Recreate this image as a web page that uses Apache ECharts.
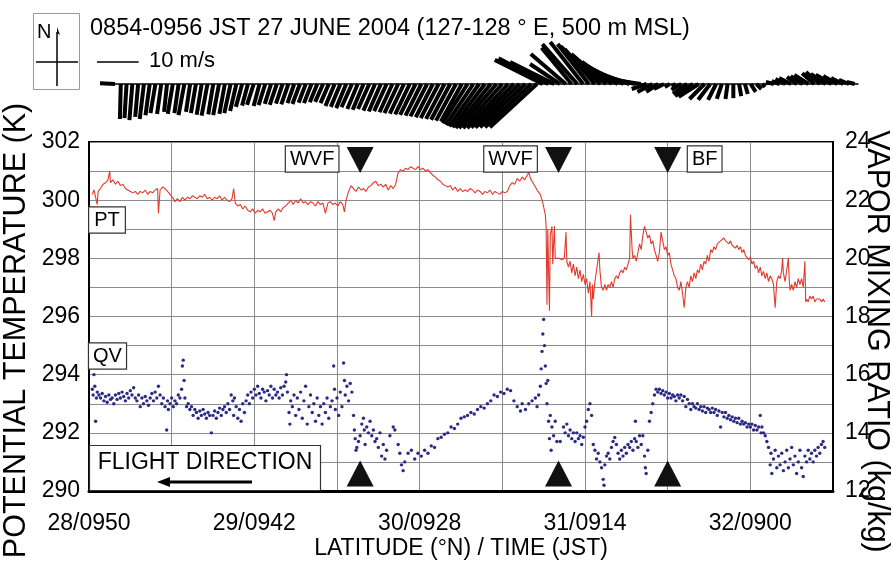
<!DOCTYPE html>
<html><head><meta charset="utf-8">
<script src="https://cdn.jsdelivr.net/npm/echarts@6/dist/echarts.min.js"></script>
<style>html,body{margin:0;padding:0;background:#fff}#c{width:893px;height:562px}</style>
</head><body><div id="c"></div>
<script>
const FONT = '"Liberation Sans", Arial, Helvetica, sans-serif';
const titleText = '0854-0956 JST 27 JUNE 2004 (127-128 ° E, 500 m MSL)';
const xTickLat = [28, 29, 30, 31, 32];
const xTickLabels = ['28/0950', '29/0942', '30/0928', '31/0914', '32/0900'];
const frontLat = [29.64, 30.84, 31.5];
const frontNames = ['WVF', 'WVF', 'BF'];
const frontSide = [-1, -1, 1];

// Potential temperature (K) vs latitude
const ptData = [
[28.02,300.2],[28.03,300.35],[28.04,300.3],[28.05,299.85],[28.055,300.3],[28.07,300.4],[28.085,300.55],[28.10,300.6],[28.115,300.7],[28.125,301.0],
[28.13,300.6],[28.145,300.7],[28.16,300.55],[28.175,300.65],[28.19,300.5],[28.205,300.55],[28.22,300.4],[28.235,300.35],[28.25,300.3],[28.265,300.25],
[28.28,300.3],[28.295,300.2],[28.31,300.3],[28.325,300.25],[28.34,300.35],[28.355,300.2],[28.37,300.3],[28.385,300.25],[28.40,300.35],[28.415,300.4],
[28.42,299.55],[28.43,300.35],[28.445,300.45],[28.46,300.4],[28.475,300.3],[28.49,300.2],[28.505,300.1],[28.52,299.95],[28.535,300.05],[28.55,299.95],
[28.565,300.1],[28.58,300.0],[28.595,300.1],[28.61,300.05],[28.625,300.15],[28.64,300.1],[28.655,300.05],[28.67,300.15],[28.685,300.1],[28.70,300.2],
[28.715,300.05],[28.73,300.1],[28.745,300.0],[28.76,300.1],[28.775,300.05],[28.79,300.15],[28.805,300.0],[28.82,300.1],[28.835,300.0],[28.85,299.95],
[28.865,300.05],[28.875,300.4],[28.885,299.9],[28.90,299.8],[28.915,299.85],[28.93,299.7],[28.945,299.8],[28.96,299.65],[28.975,299.6],[28.99,299.7],
[29.005,299.55],[29.02,299.65],[29.035,299.6],[29.05,299.7],[29.065,299.55],[29.08,299.6],[29.095,299.65],[29.11,299.55],[29.12,299.3],[29.13,299.6],
[29.145,299.7],[29.16,299.6],[29.175,299.75],[29.19,299.8],[29.205,299.9],[29.22,300.0],[29.235,299.85],[29.25,300.0],[29.265,299.9],[29.28,300.05],
[29.295,299.9],[29.31,299.95],[29.325,299.85],[29.34,299.95],[29.355,299.9],[29.37,299.8],[29.385,299.95],[29.40,299.85],[29.415,299.9],[29.43,299.55],
[29.445,299.9],[29.46,299.95],[29.475,299.85],[29.49,299.9],[29.505,299.8],[29.52,299.95],[29.535,299.85],[29.545,299.6],[29.555,300.0],[29.57,300.3],
[29.585,300.5],[29.60,300.4],[29.615,300.3],[29.63,300.45],[29.645,300.35],[29.66,300.4],[29.675,300.3],[29.69,300.45],[29.705,300.5],[29.72,300.6],
[29.735,300.65],[29.75,300.5],[29.765,300.55],[29.78,300.45],[29.795,300.55],[29.81,300.35],[29.825,300.5],[29.84,300.4],[29.855,300.55],[29.87,300.95],
[29.885,301.05],[29.90,301.0],[29.915,301.1],[29.93,301.05],[29.945,301.15],[29.96,301.1],[29.975,301.05],[29.99,301.15],[30.005,301.05],[30.02,301.1],
[30.035,301.0],[30.05,301.05],[30.065,300.95],[30.08,300.85],[30.095,300.8],[30.11,300.7],[30.125,300.65],[30.14,300.55],[30.155,300.5],[30.17,300.45],
[30.185,300.5],[30.20,300.35],[30.215,300.45],[30.23,300.3],[30.245,300.4],[30.26,300.3],[30.275,300.35],[30.29,300.3],[30.305,300.4],[30.32,300.35],
[30.335,300.25],[30.35,300.35],[30.365,300.3],[30.38,300.2],[30.395,300.3],[30.41,300.25],[30.425,300.35],[30.44,300.2],[30.455,300.3],[30.47,300.25],
[30.485,300.2],[30.50,300.3],[30.515,300.25],[30.53,300.3],[30.545,300.5],[30.56,300.6],[30.575,300.55],[30.59,300.75],[30.605,300.65],[30.62,300.8],
[30.635,300.7],[30.65,300.85],[30.66,300.95],[30.67,300.75],[30.685,300.6],[30.70,300.45],[30.715,300.3],[30.73,300.2],[30.745,299.9],[30.76,299.5],
[30.765,299.1],[30.77,296.4],[30.775,299.0],[30.78,297.5],[30.785,296.2],[30.79,298.8],[30.80,299.1],[30.805,297.8],[30.81,298.5],[30.815,299.1],
[30.82,298.0],[30.83,297.95],[30.845,298.0],[30.86,297.95],[30.875,298.0],[30.885,298.9],[30.89,297.9],[30.90,297.7],[30.91,297.9],[30.92,297.5],
[30.93,297.8],[30.94,297.4],[30.95,297.7],[30.96,297.3],[30.97,297.6],[30.98,297.2],[30.99,297.45],[31.00,297.1],[31.01,297.3],[31.02,296.8],
[31.03,297.2],[31.04,296.0],[31.045,297.1],[31.05,296.6],[31.06,297.2],[31.07,297.6],[31.08,298.0],[31.085,298.2],[31.09,297.6],[31.10,297.0],
[31.11,296.9],[31.12,297.1],[31.13,296.9],[31.14,297.1],[31.15,297.0],[31.16,297.2],[31.17,297.0],[31.18,297.3],[31.19,297.4],[31.20,297.3],
[31.21,297.5],[31.22,297.6],[31.23,297.5],[31.24,297.7],[31.25,297.6],[31.26,297.8],[31.27,298.0],[31.275,299.5],[31.285,298.3],[31.29,298.0],
[31.30,298.1],[31.31,297.9],[31.32,298.2],[31.33,298.5],[31.34,298.3],[31.35,298.8],[31.36,299.1],[31.37,298.9],[31.38,298.7],[31.39,298.8],
[31.40,298.5],[31.41,298.6],[31.42,298.3],[31.43,298.1],[31.44,297.9],[31.45,298.2],[31.46,298.9],[31.47,298.6],[31.48,298.3],[31.49,298.4],
[31.50,298.1],[31.51,298.2],[31.52,297.8],[31.53,297.6],[31.54,297.4],[31.55,297.3],[31.56,297.0],[31.57,296.9],[31.58,297.2],[31.59,296.8],
[31.60,296.3],[31.61,297.0],[31.62,297.2],[31.63,297.0],[31.64,297.4],[31.65,297.2],[31.66,297.5],[31.67,297.3],[31.68,297.6],[31.69,297.5],
[31.70,297.8],[31.71,297.6],[31.72,297.9],[31.73,297.8],[31.74,298.1],[31.75,297.9],[31.76,298.3],[31.77,298.2],[31.78,298.4],[31.79,298.3],
[31.80,298.5],[31.81,298.45],[31.82,298.6],[31.83,298.55],[31.84,298.7],[31.85,298.6],[31.86,298.65],[31.87,298.5],[31.88,298.6],[31.89,298.45],
[31.90,298.5],[31.91,298.35],[31.92,298.45],[31.93,298.3],[31.94,298.4],[31.95,298.2],[31.96,298.3],[31.97,298.1],[31.98,298.15],[31.99,297.95],
[32.00,298.05],[32.01,297.8],[32.02,297.9],[32.03,297.65],[32.04,297.75],[32.05,297.5],[32.06,297.7],[32.07,297.4],[32.08,297.55],[32.09,297.3],
[32.10,297.5],[32.11,297.2],[32.12,297.4],[32.13,297.3],[32.14,297.1],[32.15,296.3],[32.16,297.2],[32.17,297.4],[32.18,297.3],[32.19,297.6],
[32.195,298.0],[32.20,297.5],[32.21,297.2],[32.22,297.6],[32.23,298.0],[32.235,297.3],[32.24,296.9],[32.25,297.1],[32.26,296.9],[32.27,297.2],
[32.28,297.0],[32.29,297.3],[32.30,297.1],[32.31,297.3],[32.32,297.0],[32.33,297.9],[32.335,296.5],[32.34,296.6],[32.35,296.5],[32.36,296.7],
[32.37,296.6],[32.38,296.7],[32.39,296.5],[32.40,296.6],[32.41,296.55],[32.42,296.6],[32.43,296.5],[32.44,296.6],[32.45,296.5]
];

// Vapor mixing ratio vs latitude
const qvData = [
[28.02,15.5],[28.025,15.3],[28.03,16.0],[28.035,15.6],[28.04,14.4],[28.045,15.2],[28.05,15.4],[28.06,15.3],[28.07,15.2],[28.08,15.35],
[28.09,15.1],[28.10,15.25],[28.11,15.05],[28.12,15.3],[28.13,15.15],[28.14,15.2],[28.15,15.0],[28.16,15.3],[28.17,15.15],[28.18,15.35],
[28.19,15.2],[28.20,15.4],[28.21,15.25],[28.22,15.1],[28.23,15.35],[28.24,15.2],[28.25,15.45],[28.26,15.3],[28.27,15.55],[28.28,15.2],
[28.29,15.1],[28.30,15.3],[28.31,14.9],[28.32,15.2],[28.33,15.0],[28.34,15.25],[28.35,15.1],[28.36,14.95],[28.37,15.2],[28.38,15.35],
[28.39,15.1],[28.40,15.4],[28.41,15.2],[28.42,15.6],[28.43,15.3],[28.44,15.0],[28.45,15.2],[28.46,14.9],[28.47,14.1],[28.475,15.1],
[28.48,14.8],[28.49,15.0],[28.50,15.2],[28.51,14.9],[28.52,15.1],[28.53,15.0],[28.54,15.3],[28.55,15.2],[28.56,15.5],[28.565,16.3],
[28.57,16.5],[28.575,15.8],[28.58,15.2],[28.59,14.9],[28.60,15.0],[28.61,14.8],[28.62,14.9],[28.63,14.6],[28.64,14.8],[28.65,14.7],
[28.66,14.5],[28.67,14.75],[28.68,14.6],[28.69,14.8],[28.70,14.65],[28.71,14.5],[28.72,14.7],[28.73,14.6],[28.74,14.0],[28.75,14.6],
[28.76,14.75],[28.77,14.5],[28.78,14.7],[28.79,14.85],[28.80,14.6],[28.81,14.8],[28.82,14.9],[28.83,14.7],[28.84,15.0],[28.85,14.8],
[28.86,15.3],[28.87,15.1],[28.875,14.6],[28.88,15.2],[28.89,14.9],[28.90,14.5],[28.91,14.8],[28.92,14.4],[28.93,15.0],[28.94,14.7],
[28.95,15.1],[28.96,15.3],[28.97,15.0],[28.98,15.4],[28.99,15.2],[29.00,15.5],[29.01,15.3],[29.02,15.6],[29.03,15.35],[29.04,15.2],
[29.05,15.5],[29.06,15.4],[29.07,15.1],[29.08,15.45],[29.09,15.3],[29.10,15.6],[29.11,15.2],[29.12,15.5],[29.13,15.3],[29.14,15.4],
[29.15,15.2],[29.16,15.55],[29.17,15.3],[29.18,15.6],[29.19,15.75],[29.195,16.0],[29.20,15.4],[29.21,14.7],[29.215,14.3],[29.22,15.1],
[29.23,14.9],[29.24,15.3],[29.25,14.6],[29.26,15.2],[29.27,14.8],[29.28,15.4],[29.29,14.5],[29.30,15.1],[29.31,15.6],[29.32,14.3],
[29.33,14.9],[29.34,15.3],[29.35,14.7],[29.36,15.0],[29.37,14.4],[29.38,15.2],[29.39,14.6],[29.40,14.9],[29.41,14.3],[29.42,15.0],
[29.43,14.7],[29.44,15.2],[29.45,14.5],[29.46,14.9],[29.47,15.1],[29.48,16.3],[29.485,15.5],[29.49,14.8],[29.50,15.2],[29.51,14.6],
[29.52,15.4],[29.53,14.9],[29.54,16.4],[29.545,15.8],[29.55,15.3],[29.56,15.6],[29.57,15.1],[29.58,15.7],[29.59,15.4],
[29.60,14.6],[29.605,14.1],[29.61,13.8],[29.615,13.4],[29.62,13.5],[29.63,13.7],[29.64,13.9],[29.65,14.3],[29.66,14.5],[29.665,14.1],
[29.67,13.6],[29.68,14.2],[29.69,14.0],[29.70,14.4],[29.71,13.9],[29.72,14.1],[29.73,13.7],[29.74,13.8],[29.75,13.5],[29.76,14.0],
[29.77,13.2],[29.78,13.6],[29.79,13.1],[29.80,13.4],[29.82,13.9],[29.84,14.2],[29.85,14.1],[29.87,13.6],[29.88,13.3],[29.89,12.9],
[29.90,12.7],[29.91,13.0],[29.93,13.3],[29.95,13.4],[29.97,13.1],[29.99,13.3],[30.01,13.2],[30.03,13.4],[30.05,13.3],[30.07,13.55],
[30.09,13.5],[30.11,13.8],[30.13,13.85],[30.15,13.95],[30.17,14.0],[30.19,14.2],[30.21,14.15],[30.23,14.3],[30.25,14.5],[30.27,14.55],
[30.29,14.6],[30.31,14.7],[30.33,14.65],[30.35,14.8],[30.37,14.9],[30.39,14.85],[30.41,15.0],[30.43,15.1],[30.45,15.3],[30.47,15.25],
[30.49,15.4],[30.51,15.35],[30.53,15.5],[30.55,15.45],[30.57,15.1],[30.59,14.9],[30.61,14.75],[30.62,15.0],[30.64,14.8],[30.66,15.0],
[30.68,15.1],[30.70,15.2],[30.71,14.9],[30.72,15.3],[30.73,15.6],[30.735,16.2],[30.74,16.8],[30.745,17.4],[30.75,17.9],[30.755,17.0],
[30.76,16.3],[30.765,15.7],[30.77,15.0],[30.775,15.8],[30.78,14.4],[30.785,13.8],[30.79,14.6],[30.795,13.4],[30.80,14.2],[30.81,13.9],
[30.82,14.4],[30.83,13.7],[30.85,13.7],[30.87,14.2],[30.88,14.0],[30.89,14.3],[30.90,13.9],[30.91,14.1],[30.92,13.8],[30.93,14.0],
[30.94,13.7],[30.95,14.0],[30.96,13.8],[30.97,13.9],[30.98,13.6],[30.99,13.85],[31.00,14.2],[31.01,14.4],[31.02,14.8],[31.03,15.0],
[31.04,14.6],[31.05,13.6],[31.06,13.4],[31.07,13.1],[31.08,13.3],[31.09,13.0],[31.10,12.8],[31.11,12.4],[31.115,12.2],[31.12,12.9],
[31.13,13.2],[31.14,13.3],[31.15,13.1],[31.16,13.5],[31.17,13.7],[31.18,13.84],[31.19,13.6],[31.20,13.3],[31.21,13.1],[31.22,13.4],
[31.23,13.2],[31.24,13.5],[31.25,13.3],[31.26,13.6],[31.27,13.5],[31.28,13.7],[31.29,13.4],[31.30,13.8],[31.305,14.4],[31.31,13.7],
[31.32,13.5],[31.33,13.9],[31.34,13.6],[31.35,13.9],[31.36,13.2],[31.365,12.8],[31.37,12.6],[31.38,13.4],[31.39,14.4],[31.40,14.7],
[31.41,15.0],[31.42,15.3],[31.43,15.5],[31.44,15.4],[31.45,15.5],[31.46,15.35],[31.47,15.45],[31.48,15.3],[31.49,15.4],[31.50,15.2],
[31.51,15.35],[31.52,15.2],[31.53,15.3],[31.54,15.25],[31.55,15.1],[31.56,15.3],[31.57,15.2],[31.58,15.3],[31.59,15.1],[31.60,15.25],
[31.61,14.9],[31.62,15.15],[31.63,15.0],[31.64,14.8],[31.65,15.0],[31.66,14.9],[31.67,14.85],[31.68,15.0],[31.69,14.8],[31.70,14.9],
[31.71,14.75],[31.72,14.9],[31.73,14.7],[31.74,14.85],[31.75,14.8],[31.76,14.7],[31.77,14.85],[31.78,14.7],[31.79,14.8],[31.80,14.6],
[31.81,14.75],[31.82,14.2],[31.83,14.7],[31.84,14.55],[31.85,14.7],[31.86,14.5],[31.87,14.6],[31.88,14.45],[31.89,14.55],[31.90,14.4],
[31.91,14.5],[31.92,14.35],[31.93,14.5],[31.94,14.3],[31.95,14.4],[31.96,14.3],[31.97,14.35],[31.98,14.2],[31.99,14.3],[32.00,14.2],
[32.01,14.3],[32.02,14.1],[32.03,14.25],[32.04,14.1],[32.05,14.2],[32.06,14.6],[32.065,14.0],[32.07,14.2],[32.08,14.0],[32.09,13.9],
[32.10,13.7],[32.11,13.5],[32.12,12.9],[32.125,13.3],[32.13,12.6],[32.14,13.1],[32.15,13.4],[32.16,12.8],[32.17,13.2],[32.18,12.9],
[32.19,13.3],[32.20,12.7],[32.21,13.0],[32.22,13.4],[32.23,12.8],[32.24,13.1],[32.25,13.5],[32.26,12.9],[32.27,13.2],[32.28,12.6],
[32.29,13.0],[32.30,13.4],[32.31,12.8],[32.32,12.5],[32.33,13.2],[32.34,13.0],[32.35,13.4],[32.36,13.1],[32.37,13.3],[32.38,13.0],
[32.39,13.4],[32.40,13.2],[32.41,13.5],[32.42,13.3],[32.43,13.6],[32.44,13.7],[32.45,13.5]
];

// Wind sticks: base latitude, eastward (u) and northward (v) components, m/s
const windLat = [
28.000,28.035,28.070,28.105,28.140,28.175,28.210,28.245,28.280,28.315,
28.350,28.385,28.420,28.455,28.490,28.525,28.560,28.595,28.630,28.665,
28.700,28.735,28.770,28.805,28.840,28.875,28.910,28.945,28.980,29.015,
29.050,29.085,29.120,29.155,29.190,29.225,29.260,29.295,29.330,29.365,
29.400,29.435,29.470,29.505,29.540,29.575,29.610,29.645,29.680,29.715,
29.750,29.785,29.820,29.855,29.890,29.925,29.960,29.995,30.030,30.065,
30.100,30.135,30.170,30.205,30.240,30.275,30.310,30.345,30.380,30.415,
30.450,30.485,30.520,30.555,30.590,30.625,30.660,30.695,30.730,30.765,
30.800,30.835,30.870,30.905,30.940,30.975,31.010,31.045,31.080,31.115,
31.150,31.185,31.220,31.255,31.290,31.325,31.360,31.395,31.430,31.465,
31.500,31.535,31.570,31.605,31.640,31.675,31.710,31.745,31.780,31.815,
31.850,31.885,31.920,31.955,31.990,32.025,32.060,32.095,32.130,32.165,
32.200,32.235,32.270,32.305,32.340,32.375,32.410,32.445,32.480];
const windU = [
-3.6,-0.2,-0.5,-0.7,-0.7,-1.0,-1.0,-1.2,-1.0,-0.7,
-1.2,-1.0,-1.4,-1.0,-1.2,-1.2,-1.4,-1.2,-1.4,-1.3,
-1.5,-1.5,-1.5,-1.4,-1.6,-1.4,-1.6,-1.5,-1.7,-1.6,
-1.7,-1.6,-1.8,-1.7,-1.8,-1.8,-1.9,-2.0,-2.2,-2.3,
-2.4,-2.5,-2.5,-2.6,-2.7,-2.8,-2.9,-3.0,-3.1,-3.3,
-3.4,-3.5,-3.7,-3.8,-4.0,-4.1,-4.3,-4.4,-4.6,-4.8,
-5.0,-6.0,-6.6,-7.2,-7.8,-8.4,-9.0,-9.4,-9.8,-10.2,
-10.6,-10.9,-11.1,-11.3,-11.5,-12.0,-10.6,-7.2,-8.4,-7.2,
-8.4,-7.9,-7.5,-7.2,-9.6,-8.4,-7.2,-7.2,-7.2,-6.7,
-6.0,-4.8,-3.6,-3.6,-2.9,-2.4,-1.2,-1.0,-2.4,-3.4,
-4.3,-4.8,-3.6,-2.9,-1.9,-1.2,-0.5,0,0.5,0.7,
1.2,1.2,0.7,0,-1.9,-1.9,-2.4,-2.9,-2.4,-2.9,
-3.4,-2.9,-3.4,-3.6,-3.8,-3.4,-2.9,-2.4,-1.9];
const windV = [
0.2,-8.4,-8.2,-8.7,-7.9,-8.4,-7.5,-7.0,-7.2,-6.7,
-7.2,-7.0,-7.5,-6.7,-7.0,-7.4,-7.6,-7.3,-7.5,-7.2,
-7.0,-6.5,-5.5,-5.2,-5.0,-5.3,-5.1,-4.8,-5.0,-4.7,
-4.9,-4.6,-4.8,-4.5,-4.6,-4.4,-4.3,-4.6,-5.3,-5.5,
-5.8,-5.6,-6.0,-6.2,-6.0,-6.4,-6.6,-6.5,-6.8,-7.0,
-7.1,-7.3,-7.4,-7.6,-7.8,-8.0,-8.2,-8.4,-8.6,-8.8,
-9.0,-9.4,-9.8,-10.2,-10.4,-10.6,-10.6,-10.6,-10.6,-10.5,
-10.5,-10.4,-10.4,-10.4,5.8,6.2,5.3,4.8,7.2,8.7,
9.6,10.1,9.6,8.4,9.1,7.2,5.3,4.3,3.4,2.4,
1.4,0.7,-1.2,-1.9,-1.9,-1.2,-0.7,-0.5,-1.4,-2.4,
-2.9,-3.1,-3.6,-3.8,-3.8,-3.6,-3.6,-3.4,-2.9,-2.4,
-1.9,-1.2,-0.7,-0.2,0.5,0.7,1.2,1.4,1.7,1.9,
2.2,2.6,2.9,2.4,2.2,1.9,1.4,1.0,0.5];
const scaleSpeed = 10;

const chart = echarts.init(document.getElementById('c'), null, {renderer: 'canvas'});
const windData = windLat.map((l, i) => [l, windU[i], windV[i]]);

chart.setOption({
  animation: false,
  backgroundColor: '#fff',
  textStyle: {fontFamily: FONT, color: '#000'},
  grid: [
    {left: 89, top: 142, width: 744, height: 349, show: true, borderColor: '#000', borderWidth: 2,
     backgroundColor: 'transparent', containLabel: false, outerBoundsMode: 'none'},
    {left: 115, top: 32, width: 743, height: 104, containLabel: false, outerBoundsMode: 'none'}
  ],
  xAxis: [
    {type: 'value', gridIndex: 0, min: 28, max: 32.5, interval: 0.5,
     axisLine: {show: true, onZero: false, lineStyle: {color: '#000', width: 3}},
     axisTick: {show: false},
     axisLabel: {fontSize: 23, color: '#000', fontFamily: FONT, margin: 21, showMinLabel: true, showMaxLabel: true, hideOverlap: false,
       formatter: v => { const i = xTickLat.indexOf(Math.round(v * 100) / 100); return i >= 0 ? xTickLabels[i] : ''; }},
     splitLine: {show: true, lineStyle: {color: '#8c8c8c', width: 1}},
     name: 'LATITUDE (°N) / TIME (JST)', nameLocation: 'middle', nameGap: 46, nameMoveOverlap: false,
     nameTextStyle: {fontSize: 23, color: '#000', fontFamily: FONT}},
    {type: 'value', gridIndex: 1, min: 28, max: 32.5,
     axisLine: {show: true, onZero: true, lineStyle: {color: '#000', width: 1.5}},
     axisTick: {show: false}, axisLabel: {show: false}, splitLine: {show: false}}
  ],
  yAxis: [
    {type: 'value', gridIndex: 0, min: 290, max: 302, interval: 1,
     axisLine: {show: true, lineStyle: {color: '#000', width: 2}},
     axisTick: {show: false},
     axisLabel: {fontSize: 23, color: '#000', fontFamily: FONT, margin: 9, hideOverlap: false,
       formatter: v => (v % 2 === 0 ? String(v) : '')},
     splitLine: {show: true, lineStyle: {color: '#8c8c8c', width: 1}},
     name: 'POTENTIAL TEMPERATURE (K)', nameLocation: 'middle', nameGap: 57, nameMoveOverlap: false,
     nameTextStyle: {fontSize: 30.5, color: '#000', fontFamily: FONT, padding: [0, 28, 0, 0]}},
    {type: 'value', gridIndex: 0, position: 'right', min: 12, max: 24, interval: 2,
     axisLine: {show: true, lineStyle: {color: '#000', width: 2}},
     axisTick: {show: false},
     axisLabel: {fontSize: 23, color: '#000', fontFamily: FONT, margin: 12, hideOverlap: false},
     splitLine: {show: false},
     name: 'VAPOR MIXING RATIO (kg/kg)', nameLocation: 'middle', nameGap: 28, nameRotate: -90, nameMoveOverlap: false,
     nameTextStyle: {fontSize: 30.5, color: '#000', fontFamily: FONT, padding: [0, 0, 0, 50]}},
    {type: 'value', gridIndex: 1, min: -12.5, max: 12.5, show: false}
  ],
  series: [
    {type: 'line', name: 'PT', xAxisIndex: 0, yAxisIndex: 0, data: ptData, showSymbol: false, symbol: 'none',
     lineStyle: {color: '#e33a2e', width: 1.1}, z: 4, silent: true},
    {type: 'scatter', name: 'QV', xAxisIndex: 0, yAxisIndex: 1, data: qvData, symbolSize: 3.4,
     itemStyle: {color: '#2d2a85', opacity: 1}, z: 4, silent: true},
    {type: 'scatter', name: 'frontTop', xAxisIndex: 0, yAxisIndex: 0, data: frontLat.map(l => [l, 301.38]),
     symbol: 'triangle', symbolRotate: 180, symbolSize: [27, 26], itemStyle: {color: '#111', opacity: 1}, z: 6, silent: true},
    {type: 'scatter', name: 'frontBottom', xAxisIndex: 0, yAxisIndex: 0, data: frontLat.map(l => [l, 290.6]),
     symbol: 'triangle', symbolSize: [27, 26], itemStyle: {color: '#111', opacity: 1}, z: 6, silent: true},
    {type: 'custom', name: 'wind', xAxisIndex: 1, yAxisIndex: 2, data: windData, encode: {x: 0, y: 2}, clip: false, silent: true,
     renderItem: function (params, api) {
       const lat = api.value(0), u = api.value(1), v = api.value(2);
       const base = api.coord([lat, 0]);
       const s = api.size([0, 1])[1];
       return {type: 'line', shape: {x1: base[0], y1: base[1], x2: base[0] + u * s, y2: base[1] - v * s},
               style: {stroke: '#000', lineWidth: 4, lineCap: 'butt'}};
     }}
  ]
});

// Annotations
const y0 = chart.convertToPixel({yAxisIndex: 2}, 0);
const y10 = chart.convertToPixel({yAxisIndex: 2}, scaleSpeed);
const scaleLen = y0 - y10;
const boxStyle = {fill: '#000', backgroundColor: '#fff', borderColor: '#333', borderWidth: 1.2, font: '20px ' + FONT,
  align: 'center', verticalAlign: 'middle', padding: [3, 4, 2, 4]};
const graphics = [
  {type: 'text', left: 90, top: 17, style: {text: titleText, font: '23.5px ' + FONT, fill: '#000'}},
  {type: 'rect', shape: {x: 33.5, y: 13.5, width: 46, height: 76}, style: {fill: 'none', stroke: '#999', lineWidth: 1}},
  {type: 'text', x: 37, y: 22, style: {text: 'N', font: '20px ' + FONT, fill: '#000'}},
  {type: 'line', shape: {x1: 36, y1: 62, x2: 78, y2: 62}, style: {stroke: '#000', lineWidth: 1.5}},
  {type: 'line', shape: {x1: 57, y1: 32, x2: 57, y2: 86}, style: {stroke: '#000', lineWidth: 1.5}},
  {type: 'polygon', shape: {points: [[57, 27], [60, 35], [57, 33]]}, style: {fill: '#000'}},
  {type: 'line', shape: {x1: 97, y1: 62, x2: 97 + scaleLen, y2: 62}, style: {stroke: '#000', lineWidth: 1.5}},
  {type: 'text', x: 149, y: 50, style: {text: '10 m/s', font: '22px ' + FONT, fill: '#000'}},
  {type: 'text', x: 107, y: 220, z: 10, style: Object.assign({}, boxStyle, {text: 'PT', padding: [3, 5, 2, 5]})},
  {type: 'text', x: 107.5, y: 356, z: 10, style: Object.assign({}, boxStyle, {text: 'QV', padding: [3, 4, 2, 4]})},
  {type: 'rect', z: 10, shape: {x: 89.5, y: 445.5, width: 231, height: 45}, style: {fill: '#fff', stroke: '#333', lineWidth: 1.2}},
  {type: 'text', z: 11, x: 205, y: 463, style: {text: 'FLIGHT DIRECTION', font: '23px ' + FONT, fill: '#000', align: 'center', verticalAlign: 'middle'}},
  {type: 'line', z: 11, shape: {x1: 252, y1: 482, x2: 168, y2: 482}, style: {stroke: '#000', lineWidth: 3}},
  {type: 'polygon', z: 11, shape: {points: [[157, 482], [170, 477], [170, 487]]}, style: {fill: '#000'}}
];
frontLat.forEach((l, i) => {
  const px = chart.convertToPixel({xAxisIndex: 0}, l);
  const off = frontSide[i] < 0 ? -48 : 37;
  graphics.push({type: 'text', x: px + off, y: 159, z: 10, style: Object.assign({}, boxStyle, {text: frontNames[i]})});
});
chart.setOption({graphic: graphics});
</script></body></html>
